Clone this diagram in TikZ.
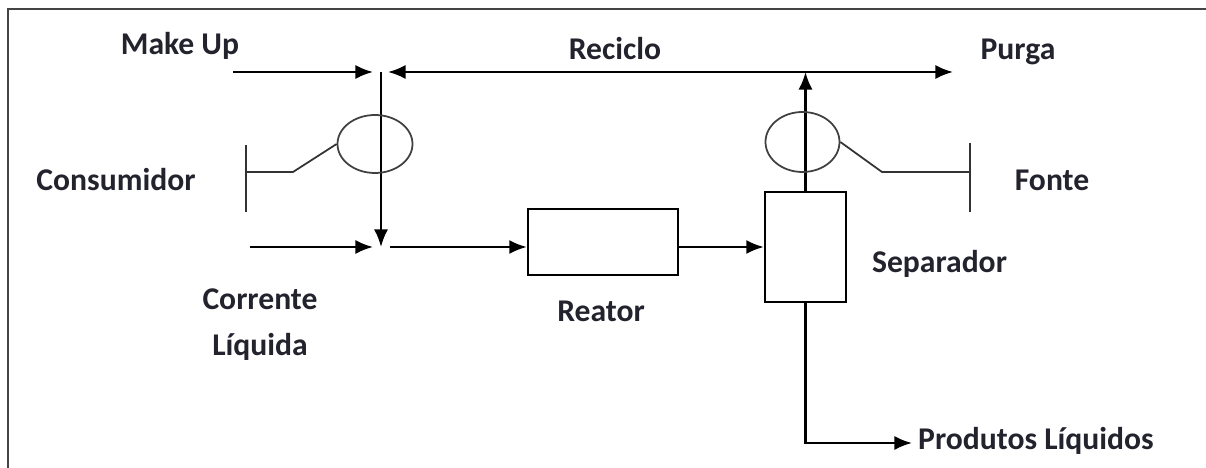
\documentclass[tikz,border=0pt]{standalone}
\usepackage{fontspec}
\setmainfont{Carlito}
\usetikzlibrary{arrows.meta,positioning,shapes.geometric,calc}
\definecolor{ink}{HTML}{23232E}
\definecolor{frame}{HTML}{444444}

\begin{document}
\begin{tikzpicture}[
    every node/.style={font=\fontsize{18}{26}\selectfont\bfseries, text=ink},
    label/.style={anchor=base},
    flow/.style={-{Latex[length=10pt,width=8pt]}, line width=1.3pt},
    unit/.style={rectangle, draw, line width=1.3pt, inner sep=0pt},
    valve/.style={ellipse, draw=black!75, line width=1pt, inner sep=0pt},
    wire/.style={line width=1pt, black!80},
]
\useasboundingbox (0,0) rectangle (24.12,-9.36);

% Border (only left and top visible)
\draw[frame, line width=1.4pt] (0.16,-9.36) -- (0.16,-0.18) -- (24.12,-0.18);

% Junction points
\coordinate (mustart) at (4.66,-1.44);
\coordinate (jtop) at (7.62,-1.44);
\coordinate (jbot) at (7.62,-4.94);
\coordinate (clstart) at (5.0,-4.94);
\coordinate (purga) at (19.06,-1.44);

% Units
\node[unit, minimum width=3.0cm, minimum height=1.32cm] (reator) at (12.06,-4.84) {};
\node[unit, minimum width=1.62cm, minimum height=2.2cm] (sep) at (16.11,-4.94) {};
\coordinate (stop) at (sep.north |- jtop);

% Flow arrows
\draw[flow] (mustart) -- ([xshift=-0.16cm]jtop);
\draw[{Latex[length=10pt,width=8pt]}-{Latex[length=10pt,width=8pt]}, line width=1.3pt]
    ([xshift=0.14cm]jtop) -- (purga);
\draw[flow] (jtop) -- (jbot);
\draw[flow] (clstart) -- ([xshift=-0.16cm]jbot);
\draw[flow] ([xshift=0.18cm]jbot) -- (jbot -| reator.west);
\draw[flow] (jbot -| reator.east) -- (jbot -| sep.west);
\draw[flow] (sep.north) -- (stop);

% Valves (drawn over the lines)
\node[valve, minimum width=1.5cm, minimum height=1.16cm] (valveL) at (7.5,-2.88) {};
\node[valve, minimum width=1.48cm, minimum height=1.2cm] (valveR) at (16.05,-2.84) {};

% Consumidor / Fonte links
\coordinate (consbar) at (4.92,-3.44);
\coordinate (fontbar) at (19.4,-3.44);
\draw[wire] (valveL.west) -- (5.86,-3.44) -- (consbar);
\draw[wire] (4.92,-2.9) -- (4.92,-4.24);
\draw[wire] (valveR.east) -- (17.64,-3.44) -- (fontbar);
\draw[wire] (19.4,-2.86) -- (19.4,-4.24);

% Labels
\node[label] (lmakeup) at (3.6,-1.1) {Make Up};
\node[label] (lreciclo) at (12.3,-1.2) {Reciclo};
\node[label] (lpurga) at (20.36,-1.2) {Purga};
\node[label] (lcons) at (2.32,-3.82) {Consumidor};
\node[label] (lfonte) at (21.04,-3.82) {Fonte};
\node[label] (lcorr) at (5.2,-6.2) {Corrente};
\node[label] (lliq) at (5.2,-7.12) {Líquida};
\node[label] (lreator) at (12.02,-6.44) {Reator};
\node[label] (lsep) at (18.79,-5.46) {Separador};
\node[anchor=base west] (lprod) at (18.24,-9.0) {Produtos Líquidos};

% Liquid product outlet
\draw[flow] (sep.south) |- (18.24,-8.86);
\end{tikzpicture}
\end{document}
